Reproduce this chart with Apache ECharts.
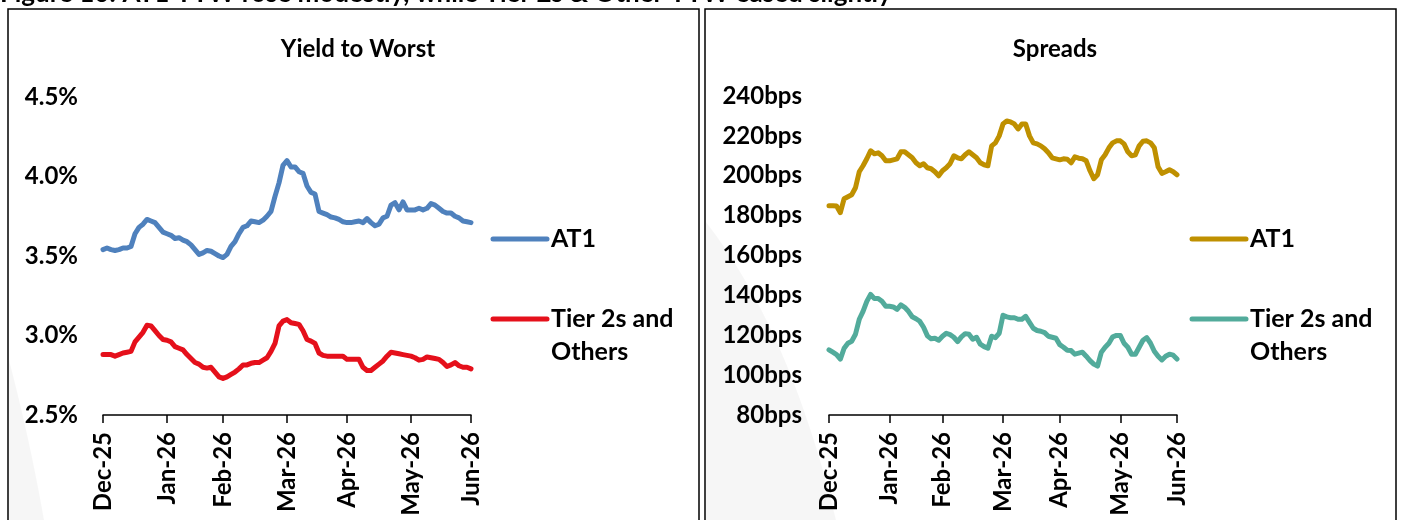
<!DOCTYPE html>
<html>
<head>
<meta charset="utf-8">
<script src="https://cdn.jsdelivr.net/npm/echarts@6/dist/echarts.min.js"></script>
<style>
  html, body { margin: 0; padding: 0; background: #fff; }
  #chart { width: 1402px; height: 520px; }
</style>
</head>
<body>
<div id="chart"></div>
<script>
// Month tick labels and their positions along the observation index
const xTickLabels = ['Dec-25', 'Jan-26', 'Feb-26', 'Mar-26', 'Apr-26', 'May-26', 'Jun-26'];
const xTickPos = [0, 16, 30, 46, 61, 77, 92];

// Yield to worst (%)
const ytwAT1 = [
  3.54, 3.55, 3.54, 3.535, 3.54, 3.55, 3.55, 3.56, 3.64, 3.68,
  3.70, 3.73, 3.72, 3.71, 3.68, 3.65, 3.64, 3.63, 3.61, 3.615,
  3.60, 3.59, 3.57, 3.54, 3.51, 3.52, 3.535, 3.53, 3.515, 3.50,
  3.49, 3.51, 3.56, 3.59, 3.64, 3.68, 3.69, 3.72, 3.715, 3.71,
  3.725, 3.75, 3.78, 3.875, 3.96, 4.07, 4.10, 4.06, 4.06, 4.03,
  4.02, 3.94, 3.90, 3.89, 3.78, 3.77, 3.76, 3.745, 3.74, 3.73,
  3.715, 3.71, 3.71, 3.715, 3.72, 3.71, 3.735, 3.71, 3.69, 3.70,
  3.74, 3.75, 3.82, 3.835, 3.79, 3.84, 3.79, 3.79, 3.79, 3.80,
  3.79, 3.80, 3.83, 3.82, 3.80, 3.78, 3.77, 3.77, 3.75, 3.74,
  3.72, 3.715, 3.71
];
const ytwTier2 = [
  2.88, 2.88, 2.88, 2.87, 2.88, 2.89, 2.895, 2.90, 2.96, 2.99,
  3.02, 3.065, 3.06, 3.03, 3.00, 2.975, 2.97, 2.96, 2.93, 2.92,
  2.91, 2.88, 2.855, 2.83, 2.82, 2.80, 2.795, 2.80, 2.77, 2.74,
  2.73, 2.74, 2.755, 2.77, 2.79, 2.815, 2.815, 2.825, 2.83, 2.83,
  2.845, 2.86, 2.90, 2.95, 3.06, 3.09, 3.10, 3.08, 3.075, 3.07,
  3.03, 2.975, 2.965, 2.95, 2.89, 2.875, 2.87, 2.87, 2.87, 2.87,
  2.87, 2.85, 2.85, 2.85, 2.85, 2.80, 2.78, 2.78, 2.80, 2.82,
  2.84, 2.87, 2.895, 2.89, 2.885, 2.88, 2.875, 2.87, 2.86, 2.845,
  2.85, 2.865, 2.86, 2.855, 2.85, 2.83, 2.805, 2.815, 2.83, 2.81,
  2.80, 2.80, 2.79
];

// Spreads (bps)
const sprAT1 = [
  185, 185, 184.8, 181.5, 188.5, 189.5, 190.5, 194, 202, 205,
  208.5, 212.5, 211, 211.5, 210, 207.5, 207.5, 208, 208.5, 212,
  212, 210.5, 209, 206.5, 205, 206, 204, 203.5, 202, 200,
  202.5, 204, 206, 210, 209, 208.5, 210.5, 212, 210.5, 209,
  206.5, 205.5, 205, 215, 216.5, 220, 226, 227.5, 227, 226,
  223.5, 226, 226, 220, 216.5, 216, 215, 213.5, 211.5, 209,
  208.5, 208, 208.5, 208.3, 206.5, 209.5, 208.8, 208.5, 207.5, 202.5,
  198.5, 200.5, 208, 210.5, 214, 216.5, 217.5, 217.5, 216, 212,
  210, 210.5, 215, 217.3, 217.5, 216.5, 214, 204.5, 201.2, 202,
  203, 202, 200.5
];
const sprTier2 = [
  112.7, 111.5, 110.3, 108, 113.5, 116, 117, 120.5, 128, 132,
  137, 140.5, 138.4, 138.4, 137, 134.5, 134.5, 134.2, 133, 135.2,
  134, 132, 129.3, 128.3, 127, 124, 119.7, 118.2, 118.5, 117.5,
  119.5, 121, 120.3, 119, 116.8, 119.2, 120.8, 120.5, 118, 119,
  115.5, 114.3, 113.5, 119.5, 118.8, 121, 130, 129.2, 128.8, 128.8,
  128, 128, 129.5, 126.5, 123.5, 122.4, 122, 121.3, 119.5, 119,
  118.5, 115.3, 114, 112.5, 112.3, 110.5, 111, 111.5, 109.5, 107.3,
  105.5, 104.5, 111.5, 114, 116, 119.2, 119.9, 119.9, 116, 114,
  110.5, 110.5, 114, 117.5, 118.8, 116, 112, 109.5, 107.6, 109.5,
  110.5, 110, 108.1
];

const seriesNames = ['AT1', 'Tier 2s and\nOthers'];
const colors = { at1Ytw: '#4F81BD', t2Ytw: '#E5101B', at1Spr: '#BF9000', t2Spr: '#52AB9B' };

const FONT = 'Lato, "Open Sans", sans-serif';
const pairs = arr => arr.map((v, i) => [i, v]);

function xAxisFor(gridIndex) {
  return {
    type: 'value', gridIndex, min: 0, max: xTickPos[xTickPos.length - 1],
    axisLine: { show: true, lineStyle: { color: '#000', width: 1.5 } },
    axisTick: { show: true, customValues: xTickPos, length: 8, inside: false, lineStyle: { color: '#000', width: 1.5 } },
    axisLabel: {
      customValues: xTickPos, rotate: 90, margin: 17,
      color: '#000', fontFamily: FONT, fontWeight: 'bold', fontSize: 24,
      formatter: v => xTickLabels[xTickPos.indexOf(v)]
    },
    splitLine: { show: false }
  };
}

function lineSeries(name, data, color, axisIdx) {
  return {
    type: 'line', name, data: pairs(data), xAxisIndex: axisIdx, yAxisIndex: axisIdx,
    showSymbol: false, symbol: 'none', smooth: false, silent: true,
    lineStyle: { color, width: 5, cap: 'round', join: 'round' }
  };
}

function legendEntry(x, y, color, label) {
  return [
    { type: 'line', shape: { x1: x, y1: y, x2: x + 54, y2: y },
      style: { stroke: color, lineWidth: 5, lineCap: 'round' } },
    { type: 'text', x: x + 58, y: y - 17,
      style: { text: label, fill: '#000', font: 'bold 25px ' + FONT, lineHeight: 33, verticalAlign: 'top' } }
  ];
}

// quadratic sweep outline for the faint background shapes
function sweep(x0, y0, cx, cy, x1, y1, baseX) {
  const pts = [];
  for (let k = 0; k <= 20; k++) {
    const t = k / 20, u = 1 - t;
    pts.push([u * u * x0 + 2 * u * t * cx + t * t * x1, u * u * y0 + 2 * u * t * cy + t * t * y1]);
  }
  pts.push([baseX, y1]);
  return pts;
}

const chart = echarts.init(document.getElementById('chart'), null, { renderer: 'canvas' });
chart.setOption({
  animation: false,
  backgroundColor: '#fff',
  title: [
    { text: 'Yield to Worst', left: 353, top: 32, textAlign: 'center',
      textStyle: { fontFamily: FONT, fontWeight: 'bold', fontSize: 24, color: '#000' } },
    { text: 'Spreads', left: 1050, top: 32, textAlign: 'center',
      textStyle: { fontFamily: FONT, fontWeight: 'bold', fontSize: 24, color: '#000' } }
  ],
  grid: [
    { left: 103, top: 97, width: 368, height: 318 },
    { left: 829, top: 96, width: 348, height: 319 }
  ],
  xAxis: [xAxisFor(0), xAxisFor(1)],
  yAxis: [
    { type: 'value', gridIndex: 0, min: 2.5, max: 4.5, interval: 0.5,
      axisLine: { show: false }, axisTick: { show: false }, splitLine: { show: false },
      axisLabel: { margin: 25, color: '#000', fontFamily: FONT, fontWeight: 'bold', fontSize: 24,
        formatter: v => v.toFixed(1) + '%' } },
    { type: 'value', gridIndex: 1, min: 80, max: 240, interval: 20,
      axisLine: { show: false }, axisTick: { show: false }, splitLine: { show: false },
      axisLabel: { margin: 27, color: '#000', fontFamily: FONT, fontWeight: 'bold', fontSize: 24,
        formatter: v => v + 'bps' } }
  ],
  series: [
    lineSeries(seriesNames[0], ytwAT1, colors.at1Ytw, 0),
    lineSeries(seriesNames[1], ytwTier2, colors.t2Ytw, 0),
    lineSeries(seriesNames[0], sprAT1, colors.at1Spr, 1),
    lineSeries(seriesNames[1], sprTier2, colors.t2Spr, 1)
  ],
  graphic: [
    // faint background sweeps
    { type: 'polygon', z: -10, shape: { points: sweep(706, 222, 790, 330, 836, 520, 706) },
      style: { fill: 'rgba(0,0,0,0.035)' } },
    { type: 'polygon', z: -10, shape: { points: sweep(9, 360, 30, 440, 44, 520, 9) },
      style: { fill: 'rgba(0,0,0,0.035)' } },
    // panel frames
    { type: 'rect', shape: { x: 8, y: 9, width: 691, height: 530 },
      style: { fill: 'none', stroke: '#000', lineWidth: 1.5 } },
    { type: 'rect', shape: { x: 705, y: 9, width: 691, height: 530 },
      style: { fill: 'none', stroke: '#000', lineWidth: 1.5 } },
    // figure heading
    { type: 'text', x: 0, y: 7,
      style: { text: 'Figure 10: AT1 YTW rose modestly, while Tier 2s & Other YTW eased slightly',
        fill: '#000', font: 'bold 26px ' + FONT, verticalAlign: 'bottom' } },
    ...legendEntry(493, 239, colors.at1Ytw, seriesNames[0]),
    ...legendEntry(493, 319, colors.t2Ytw, seriesNames[1]),
    ...legendEntry(1192, 239, colors.at1Spr, seriesNames[0]),
    ...legendEntry(1192, 319, colors.t2Spr, seriesNames[1])
  ]
});
</script>
</body>
</html>
